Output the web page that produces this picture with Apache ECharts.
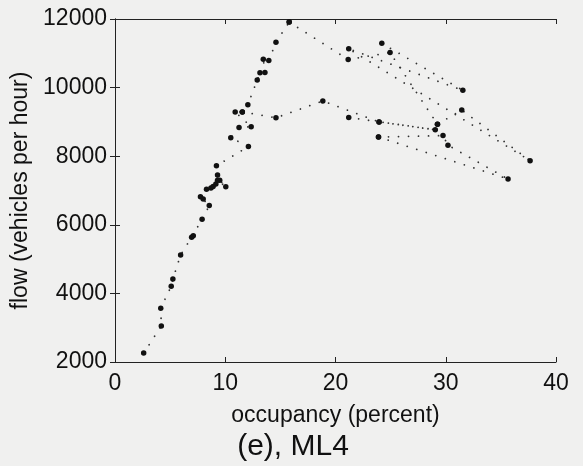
<!DOCTYPE html>
<html><head><meta charset="utf-8">
<script src="https://cdn.jsdelivr.net/npm/echarts@6/dist/echarts.min.js"></script>
<style>html,body{margin:0;padding:0;background:#f0f0ef}#c{width:583px;height:466px}</style>
</head><body><div id="c"></div><script>
// axis ticks
const xTicks = [0, 10, 20, 30, 40];
const yTicks = [2000, 4000, 6000, 8000, 10000, 12000];
const xLabel = 'occupancy (percent)';
const yLabel = 'flow (vehicles per hour)';
const panelTitle = '(e), ML4';
// occupancy (percent), flow (veh/h) — tracks of the loop
const risingBranch = [[2.6,2260],[4.2,3050],[4.15,3570],[5.1,4210],[5.25,4420],[5.95,5120],[6.95,5640],[7.1,5680],[7.9,6160],[8.55,6560],[7.75,6820],[8.0,6750],[8.3,7040],[8.7,7070],[8.9,7120],[9.15,7190],[9.5,7300],[10.05,7110],[9.3,7300],[9.3,7450],[9.2,7720],[12.1,8280],[10.5,8540],[11.25,8840],[12.35,8860],[10.9,9290],[11.55,9290],[12.05,9500],[12.9,10220],[13.15,10430],[13.6,10440],[13.45,10830],[13.95,10790],[14.6,11320],[15.8,11910]];
const peakBranch = [[15.8,11910],[21.15,10820],[24.95,11020],[29.25,8930]];
const upperLoop = [[24.2,11290],[31.55,9920],[21.2,11130],[37.65,7870],[31.45,9345],[29.25,8930]];
const middleBranch = [[11.55,9290],[14.6,9120],[18.85,9610],[23.95,9000]];
const lowerLoop = [[21.2,9130],[29.05,8770],[23.95,9000]];
const bottomLoop = [[23.9,8560],[29.75,8600],[30.2,8320],[35.65,7335],[23.9,8560]];
const tracks = [risingBranch, peakBranch, upperLoop, middleBranch, lowerLoop, bottomLoop];

const FONT = 'Liberation Sans, Arial, Helvetica, sans-serif';
const chart = echarts.init(document.getElementById('c'), null, {renderer:'canvas'});
const axisCommon = {
  axisLine:{show:true, lineStyle:{color:'#222', width:1}},
  axisTick:{show:true, inside:true, length:5, lineStyle:{color:'#222'}},
  splitLine:{show:false}
};
chart.setOption({
  animation:false,
  backgroundColor:'#f0f0ef',
  grid:{left:115, right:27, top:19, bottom:104},
  graphic:[{type:'text', x:293, y:447, style:{text:panelTitle, fontSize:30, fontFamily:FONT, fill:'#111', align:'center', verticalAlign:'middle'}}],
  xAxis:[
    Object.assign({type:'value', min:xTicks[0], max:xTicks[xTicks.length-1], interval:10, position:'bottom',
      name:xLabel, nameLocation:'middle', nameGap:42, nameTextStyle:{fontSize:23, fontFamily:FONT, color:'#111'},
      axisLabel:{fontSize:23, fontFamily:FONT, color:'#111', margin:10, formatter:v => String(v)}}, axisCommon),
    Object.assign({type:'value', min:xTicks[0], max:xTicks[xTicks.length-1], interval:10, position:'top', axisLabel:{show:false}}, axisCommon)
  ],
  yAxis:[
    Object.assign({type:'value', min:yTicks[0], max:yTicks[yTicks.length-1], interval:2000, position:'left',
      name:yLabel, nameLocation:'middle', nameGap:75, nameTextStyle:{fontSize:23, fontFamily:FONT, color:'#111'},
      axisLabel:{fontSize:23, fontFamily:FONT, color:'#111', margin:8, formatter:v => String(v)}}, axisCommon),
    Object.assign({type:'value', min:yTicks[0], max:yTicks[yTicks.length-1], interval:2000, position:'right', axisLabel:{show:false}}, axisCommon)
  ],
  series: tracks.map(t => ({
    type:'line', data:t, symbol:'circle', symbolSize:5.5, showSymbol:true,
    itemStyle:{color:'#111'},
    lineStyle:{color:'#333', width:1.8, type:[0.01, 10], cap:'round'},
    emphasis:{disabled:true}, silent:true
  }))
});
</script></body></html>
